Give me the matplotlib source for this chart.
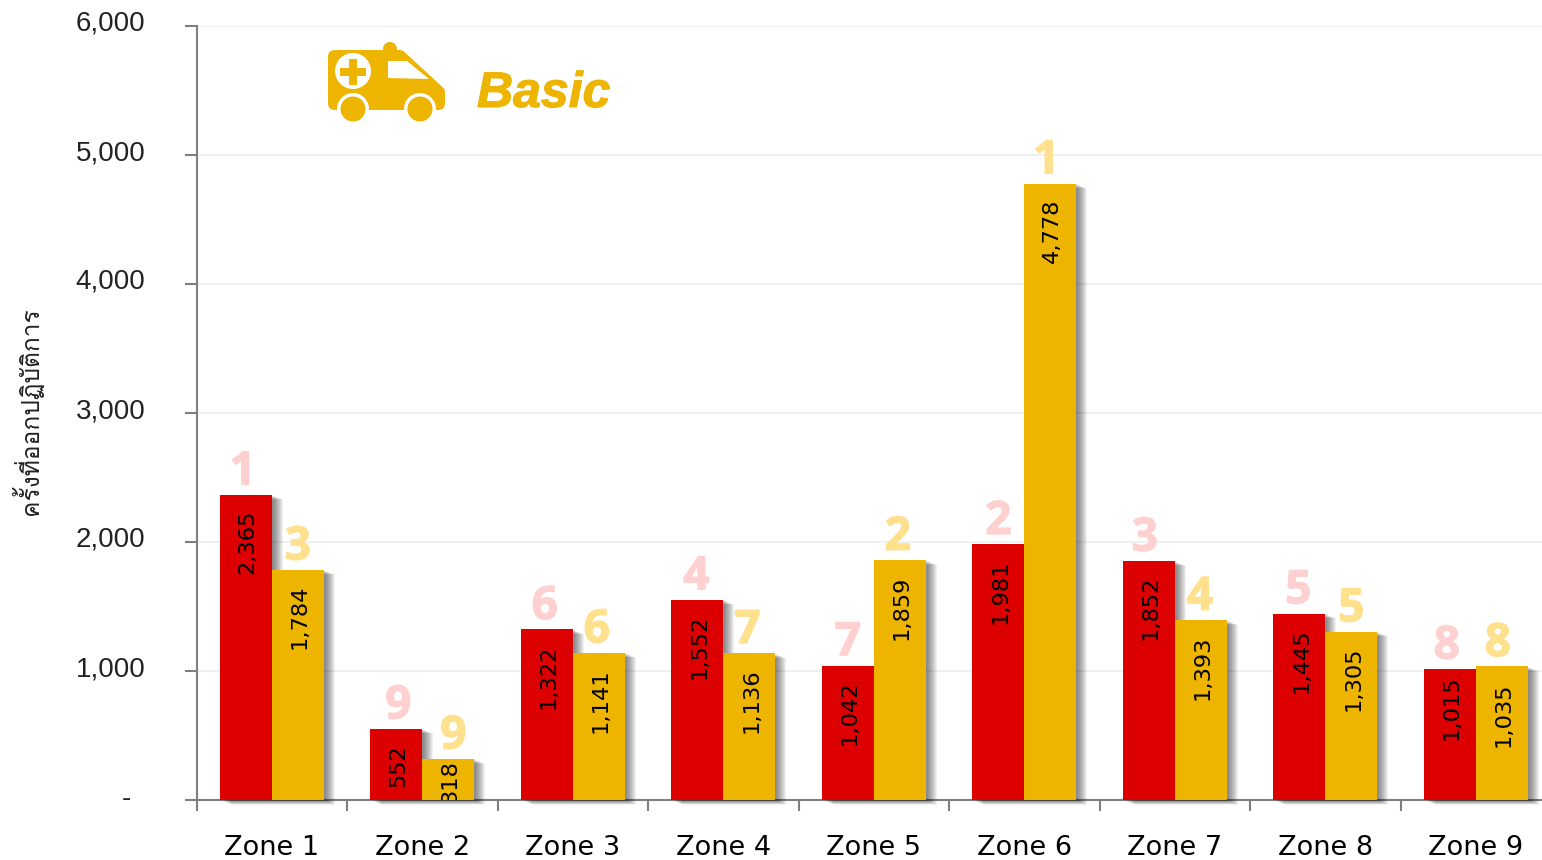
import matplotlib
matplotlib.use("Agg")
import matplotlib.pyplot as plt
from matplotlib import font_manager as fm, patheffects as pe
from matplotlib.patches import Polygon, Circle, Ellipse, Rectangle
from matplotlib.transforms import ScaledTranslation
from matplotlib.ft2font import FT2Font

zones = ["Zone 1", "Zone 2", "Zone 3", "Zone 4", "Zone 5", "Zone 6", "Zone 7", "Zone 8", "Zone 9"]
advanced = [2365, 552, 1322, 1552, 1042, 1981, 1852, 1445, 1015]
basic = [1784, 318, 1141, 1136, 1859, 4778, 1393, 1305, 1035]
rank_adv = [1, 9, 6, 4, 7, 2, 3, 5, 8]
rank_bas = [3, 9, 6, 7, 2, 1, 4, 5, 8]
yticks = [0, 1000, 2000, 3000, 4000, 5000, 6000]
ylabels = ["-", "1,000", "2,000", "3,000", "4,000", "5,000", "6,000"]
ytitle = "ครั้งที่ออกปฏิบัติการ"
series_name = "Basic"

# hand-placed nudges of the labels, in pixels
dx_adv = [-3, 2, -2, -1, 0, 0, -4, -1, -3]
dx_bas = [0, 5, -2, -2, -2, -4, -1, 0, -4]
val_off_adv = [15, 15, 15, 15, 15, 15, 15, 15, 6]
val_off_bas = [15, 1, 15, 15, 15, 15, 15, 15, 16]

RED = "#DC0000"
YEL = "#EDB400"
W, H = 1542, 860

thai_font = None
for f in fm.fontManager.ttflist:
    try:
        if 0x0E04 in FT2Font(f.fname).get_charmap():
            thai_font = f.name
            break
    except Exception:
        pass

fig = plt.figure(figsize=(W / 100, H / 100), dpi=100, facecolor="white")
L, R, T, B = 196.6, 196.6 + 1354.5, 26, 800
ax = fig.add_axes([L / W, 1 - B / H, (R - L) / W, (B - T) / H])
ax.set_xlim(0, 9)
ax.set_ylim(0, 6000)
for s in ("top", "right"):
    ax.spines[s].set_visible(False)
for s in ("left", "bottom"):
    ax.spines[s].set_color("#7f7f7f")
    ax.spines[s].set_linewidth(1.5)
ax.set_axisbelow(True)
ax.yaxis.grid(True, color="#f0f0f0", lw=1.5)

ax.set_yticks(yticks)
ax.set_yticklabels(ylabels, fontsize=20, family="Liberation Sans", color="#222222")
ax.tick_params(axis="y", length=9, width=1.5, color="#7f7f7f", pad=28)
for i, lab in enumerate(ax.get_yticklabels()):
    shift = ScaledTranslation(-14 / 100 if i == 0 else 0, 5 / 100 if i else 4 / 100, fig.dpi_scale_trans)
    lab.set_transform(lab.get_transform() + shift)

ax.set_xticks(range(10))
ax.set_xticklabels([])
ax.set_xticks([i + 0.5 for i in range(9)], minor=True)
ax.set_xticklabels(zones, minor=True, fontsize=19.5, family="DejaVu Sans", color="black")
ax.tick_params(axis="x", which="major", length=8, width=1.5, color="#7f7f7f")
ax.tick_params(axis="x", which="minor", length=0, pad=25.5)

w = 52 / 150.5
shadow = [pe.SimplePatchShadow(offset=(d * 0.72, -d * 0.3), shadow_rgbFace="black", alpha=0.055)
          for d in (11, 10, 9, 8, 7, 6, 5, 4, 3, 2)] + [pe.Normal()]
xs = [i + 0.5 for i in range(9)]
for vals, col, sign, rank, dxs, offs, rc in (
    (advanced, RED, -1, rank_adv, dx_adv, val_off_adv, "#FFD0D0"),
    (basic, YEL, 1, rank_bas, dx_bas, val_off_bas, "#FFE08C"),
):
    cx = [x + sign * w / 2 for x in xs]
    bars = ax.bar(cx, vals, width=w, color=col, zorder=3)
    for b in bars:
        b.set_path_effects(shadow)
        b.set_clip_on(False)
    for x, v, r, dx, off in zip(cx, vals, rank, dxs, offs):
        ax.annotate(f"{v:,}", (x, v), xytext=(2, -off), textcoords="offset pixels",
                    rotation=90, ha="center", va="top", fontsize=16.2, family="DejaVu Sans",
                    color="black", zorder=5, clip_on=True)
        t = ax.annotate(str(r), (x, v), xytext=(dx, 23), textcoords="offset pixels",
                        ha="center", va="center", fontsize=33, fontweight="bold",
                        family="Open Sans", color=rc, zorder=5)
        t.set_path_effects([pe.withStroke(linewidth=1.0, foreground=rc)])

fig.text(27 / W, 1 - 411 / H, ytitle, rotation=90, ha="center", va="center",
         fontsize=17.7, family=thai_font or "DejaVu Sans", color="#222222")

# overlay in pixel space for the ambulance pictogram and series name
ov = fig.add_axes([0, 0, 1, 1], facecolor="none")
ov.set_xlim(0, W)
ov.set_ylim(H, 0)
ov.axis("off")
ov.add_patch(Ellipse((390, 49), 14, 14, color=YEL, lw=0))
ov.add_patch(Polygon([(334, 56), (400, 56), (439, 92), (439, 104), (334, 104)], closed=True,
                     facecolor=YEL, edgecolor=YEL, lw=8.6, joinstyle="round"))
ov.add_patch(Circle((353, 71), 18, color="white", lw=0))
ov.add_patch(Rectangle((340, 67.5), 26, 8, color=YEL, lw=0))
ov.add_patch(Rectangle((349, 58.5), 8, 26, color=YEL, lw=0))
ov.add_patch(Polygon([(388, 61), (407, 61), (429, 79), (388, 78)], closed=True, facecolor="white", lw=0))
for cx in (353, 420):
    ov.add_patch(Circle((cx, 109), 16, color="white", lw=0))
    ov.add_patch(Circle((cx, 109), 12.5, color=YEL, lw=0))
b = ov.text(477, 107, series_name, fontsize=36, fontweight="bold", fontstyle="italic",
            family="Liberation Sans", color=YEL, ha="left", va="baseline")
b.set_path_effects([pe.withStroke(linewidth=0.8, foreground=YEL)])

fig.savefig("out.png", dpi=100)
